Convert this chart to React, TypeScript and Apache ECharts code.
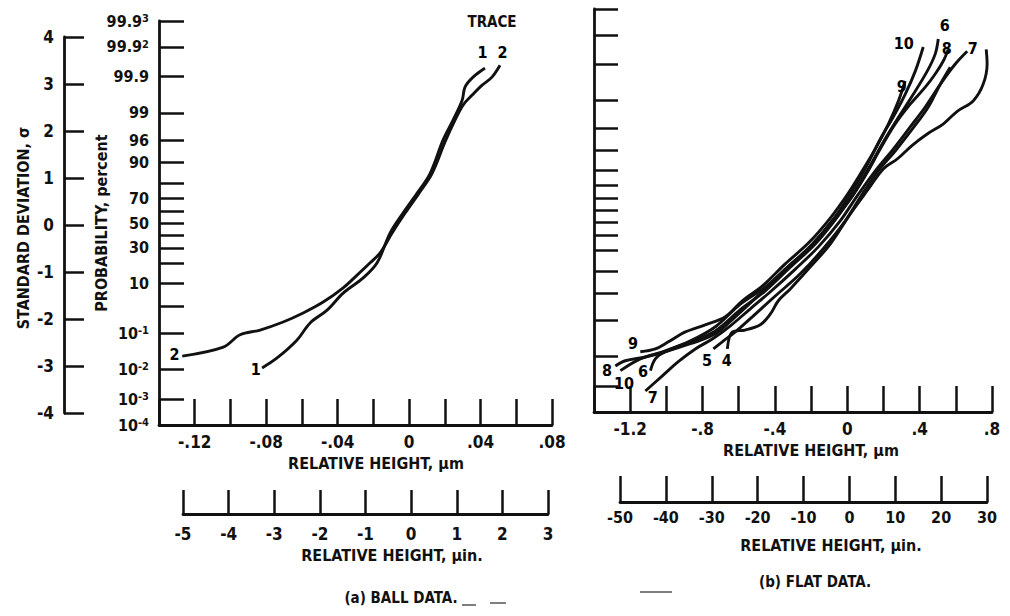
import React, { useEffect, useRef } from 'react';
import * as echarts from 'echarts';

const FONT = "'DejaVu Sans Condensed', 'Liberation Sans Narrow', 'DejaVu Sans', sans-serif";
const INK = '#111';

// Normal-probability scale: tick positions in percent, and the labels printed beside some of them
const probTickPercent = [0.001, 0.01, 0.1, 1, 4, 10, 20, 30, 40, 50, 60, 70, 80, 90, 96, 99, 99.9, 99.99, 99.999];
const probLabelPercent = [0.001, 0.01, 0.1, 1, 10, 30, 50, 70, 90, 96, 99, 99.9, 99.99, 99.999];
const probLabelText = ['10{s|-4}', '10{s|-3}', '10{s|-2}', '10{s|-1}', '10', '30', '50', '70', '90', '96', '99', '99.9', '99.9{s|2}', '99.9{s|3}'];

// Standard deviation scale
const sigmaMin = -4;
const sigmaMax = 4;

// Relative height axes (µm and µin.)
const ballMicronRange = [-0.14, 0.08];
const ballMicroinchRange = [-5, 3];
const flatMicronRange = [-1.4, 0.8];
const flatMicroinchRange = [-50, 30];

// (a) Ball data: [relative height µm, standard deviation σ]
const ballTrace1 = [
  [-0.0823, -3.06], [-0.0739, -2.85], [-0.0627, -2.47], [-0.0554, -2.11], [-0.0459, -1.84],
  [-0.0369, -1.48], [-0.0257, -1.16], [-0.0179, -0.84], [-0.0106, -0.21], [-0.0034, 0.21],
  [0.0045, 0.63], [0.0118, 1.05], [0.019, 1.75], [0.0246, 2.17], [0.0297, 2.59],
  [0.0313, 2.87], [0.0358, 3.08], [0.0425, 3.27],
];
const ballTrace2 = [
  [-0.127, -2.81], [-0.104, -2.62], [-0.0946, -2.36], [-0.0834, -2.26], [-0.0705, -2.09],
  [-0.0593, -1.9], [-0.0481, -1.67], [-0.0369, -1.37], [-0.0291, -1.1], [-0.0218, -0.84],
  [-0.0162, -0.63], [-0.0095, -0.21], [-0.0022, 0.21], [0.0056, 0.63], [0.0129, 1.05],
  [0.0201, 1.71], [0.0257, 2.17], [0.0302, 2.49], [0.0353, 2.7], [0.0409, 2.91],
  [0.0464, 3.08], [0.0509, 3.33],
];
const ballLabelText = ['1', '2', '1', '2'];
const ballLabelX = [-0.0856, -0.131, 0.0414, 0.0526];
const ballLabelY = [-3.1, -2.78, 3.59, 3.59];

// (b) Flat data: [relative height µm, standard deviation σ]
const flatTrace4 = [
  [-0.663, -2.93], [-0.635, -2.57], [-0.564, -2.53], [-0.481, -2.42], [-0.425, -2.19],
  [-0.381, -1.91], [-0.315, -1.66], [-0.215, -1.24], [-0.094, -0.71], [0.017, -0.07],
  [0.116, 0.45], [0.199, 0.88], [0.276, 1.09], [0.359, 1.38], [0.442, 1.62],
  [0.53, 1.83], [0.608, 2.1], [0.696, 2.32], [0.751, 2.67], [0.773, 3.1], [0.768, 3.41],
];
const flatTrace5 = [
  [-0.74, -2.93], [-0.691, -2.78], [-0.619, -2.57], [-0.525, -2.25], [-0.398, -1.81],
  [-0.26, -1.34], [-0.133, -0.81], [-0.011, -0.22], [0.083, 0.35], [0.171, 0.84],
  [0.265, 1.26], [0.359, 1.72], [0.448, 2.19], [0.514, 2.67], [0.569, 3.03],
];
const flatTrace6 = [
  [-1.088, -3.39], [-1.061, -3.14], [-1.006, -2.99], [-0.867, -2.78], [-0.729, -2.55],
  [-0.591, -2.1], [-0.453, -1.7], [-0.315, -1.2], [-0.177, -0.71], [-0.055, -0.14],
  [0.033, 0.35], [0.116, 0.88], [0.193, 1.41], [0.276, 1.93], [0.365, 2.46],
  [0.442, 2.95], [0.486, 3.31], [0.503, 3.63],
];
const flatTrace7 = [
  [-1.116, -3.82], [-1.022, -3.5], [-0.934, -3.2], [-0.84, -2.93], [-0.746, -2.72],
  [-0.646, -2.44], [-0.536, -2.08], [-0.425, -1.72], [-0.287, -1.24], [-0.16, -0.77],
  [-0.039, -0.22], [0.055, 0.31], [0.155, 0.84], [0.254, 1.3], [0.348, 1.77],
  [0.431, 2.19], [0.514, 2.67], [0.597, 3.1], [0.663, 3.37],
];
const flatTrace8 = [
  [-1.282, -3.29], [-1.227, -3.18], [-1.116, -3.1], [-1.006, -2.99], [-0.867, -2.82],
  [-0.729, -2.61], [-0.619, -2.25], [-0.481, -1.76], [-0.343, -1.24], [-0.204, -0.77],
  [-0.083, -0.22], [0.017, 0.24], [0.105, 0.77], [0.182, 1.3], [0.265, 1.83],
  [0.348, 2.25], [0.431, 2.61], [0.486, 2.89], [0.53, 3.16], [0.558, 3.41],
];
const flatTrace9 = [
  [-1.144, -2.99], [-1.061, -2.93], [-0.989, -2.78], [-0.895, -2.57], [-0.785, -2.42],
  [-0.674, -2.25], [-0.58, -1.91], [-0.47, -1.6], [-0.343, -1.13], [-0.215, -0.69],
  [-0.094, -0.16], [0.006, 0.37], [0.083, 0.84], [0.155, 1.3], [0.227, 1.83],
  [0.282, 2.31], [0.32, 2.74],
];
const flatTrace10 = [
  [-1.254, -3.39], [-1.144, -3.14], [-1.006, -2.97], [-0.867, -2.76], [-0.729, -2.46],
  [-0.591, -1.98], [-0.453, -1.62], [-0.315, -1.15], [-0.193, -0.71], [-0.077, -0.18],
  [0.017, 0.35], [0.099, 0.88], [0.182, 1.51], [0.254, 1.98], [0.32, 2.46],
  [0.376, 2.95], [0.42, 3.46],
];
const flatLabelText = ['10', '6', '8', '7', '4', '9', '9', '8', '10', '6', '7', '5', '4'];
const flatLabelX = [0.315, 0.541, 0.552, 0.696, 0.818, 0.304, -1.182, -1.326, -1.232, -1.127, -1.072, -0.773, -0.663];
const flatLabelY = [3.52, 3.9, 3.41, 3.41, 3.63, 2.61, -2.82, -3.39, -3.67, -3.41, -3.96, -3.18, -3.18];

// Inverse of the standard normal distribution (Acklam's rational approximation)
function probit(p: number): number {
  const a = [-39.69683028665376, 220.9460984245205, -275.9285104469687, 138.357751867269, -30.66479806614716, 2.506628277459239];
  const b = [-54.47609879822406, 161.5858368580409, -155.6989798598866, 66.80131188771972, -13.28068155288572];
  const c = [-0.007784894002430293, -0.3223964580411365, -2.400758277161838, -2.549732539343734, 4.374664141464968, 2.938163982698783];
  const d = [0.007784695709041462, 0.3224671290700398, 2.445134137142996, 3.754408661907416];
  const pl = 0.02425;
  if (p < pl) {
    const q = Math.sqrt(-2 * Math.log(p));
    return (((((c[0] * q + c[1]) * q + c[2]) * q + c[3]) * q + c[4]) * q + c[5]) / ((((d[0] * q + d[1]) * q + d[2]) * q + d[3]) * q + 1);
  }
  if (p > 1 - pl) {
    const q = Math.sqrt(-2 * Math.log(1 - p));
    return -(((((c[0] * q + c[1]) * q + c[2]) * q + c[3]) * q + c[4]) * q + c[5]) / ((((d[0] * q + d[1]) * q + d[2]) * q + d[3]) * q + 1);
  }
  const q = p - 0.5;
  const r = q * q;
  return (((((a[0] * r + a[1]) * r + a[2]) * r + a[3]) * r + a[4]) * r + a[5]) * q / (((((b[0] * r + b[1]) * r + b[2]) * r + b[3]) * r + b[4]) * r + 1);
}

const probTickSigma = probTickPercent.map((p) => probit(p / 100));
const probLabelSigma = probLabelPercent.map((p) => probit(p / 100));
const probMin = probit(probTickPercent[0] / 100);
const probMax = probit(probTickPercent[probTickPercent.length - 1] / 100);

function probLabel(v: number): string {
  const i = probLabelSigma.findIndex((z) => Math.abs(z - v) < 1e-6);
  return i >= 0 ? probLabelText[i] : '';
}

function decimalLabel(v: number, step: number, every: number, digits: number): string {
  const r = Math.round(v / step);
  if (r % every !== 0) return '';
  if (r === 0) return '0';
  const s = Math.abs(v).toFixed(digits).replace(/^0/, '');
  return (v < 0 ? '-' : '') + s;
}

const lineBase = { lineStyle: { color: INK, width: 2.8 } };
const tickBase = { lineStyle: { color: INK, width: 2.5 } };
const labelBase = { color: INK, fontFamily: FONT, fontWeight: 'bold' as const, fontSize: 16 };

function hiddenAxis(gridIndex: number) {
  return { type: 'value', gridIndex, show: false, min: 0, max: 1 };
}

function traceSeries(name: string, data: number[][], axis: number) {
  return {
    name,
    type: 'line',
    xAxisIndex: axis,
    yAxisIndex: axis,
    data,
    smooth: 0.35,
    symbol: 'none',
    lineStyle: { color: INK, width: 2.9 },
    z: 3,
  };
}

function labelSeries(texts: string[], xs: number[], ys: number[], axis: number) {
  return {
    type: 'scatter',
    xAxisIndex: axis,
    yAxisIndex: axis,
    symbol: 'circle',
    symbolSize: 1,
    itemStyle: { color: '#ffffff', opacity: 0 },
    data: texts.map((t, i) => ({ name: t, value: [xs[i], ys[i]] })),
    label: {
      show: true,
      position: [0, 0],
      align: 'center',
      verticalAlign: 'middle',
      formatter: (p: any) => p.name,
      color: '#000',
      opacity: 1,
      fontFamily: FONT,
      fontWeight: 'bold',
      fontSize: 16,
    },
    silent: true,
    z: 4,
  };
}

function headText(text: string, x: number, y: number, size = 16) {
  return {
    type: 'text',
    x,
    y,
    style: {
      text,
      fill: INK,
      font: `bold ${size}px ${FONT}`,
      textAlign: 'center',
      textVerticalAlign: 'middle',
    },
  };
}

// short smudges left along the caption line by the printing
function smudge(x1: number, y1: number, x2: number, y2: number) {
  return { type: 'line', shape: { x1, y1, x2, y2 }, style: { stroke: '#555', lineWidth: 1.5 } };
}

export default function App() {
  const ref = useRef<HTMLDivElement>(null);

  useEffect(() => {
    if (!ref.current) return;
    const chart = echarts.init(ref.current, null, { renderer: 'svg' });

    const option: any = {
      animation: false,
      backgroundColor: '#fff',
      grid: [
        { left: 159, top: 21, width: 393, height: 404 },
        { left: 183, top: 480, width: 365, height: 34 },
        { left: 594, top: 9, width: 398, height: 403 },
        { left: 620, top: 468, width: 367, height: 34 },
        { left: 64, top: 37, width: 1, height: 376 },
      ],
      xAxis: [
        {
          type: 'value',
          gridIndex: 0,
          min: ballMicronRange[0],
          max: ballMicronRange[1],
          interval: 0.02,
          axisLine: { show: true, onZero: false, ...lineBase },
          axisTick: { show: true, inside: true, length: 26, ...tickBase },
          axisLabel: { ...labelBase, fontSize: 17, margin: 8, formatter: (v: number) => decimalLabel(v, 0.01, 4, 2) },
          splitLine: { show: false },
        },
        {
          type: 'value',
          gridIndex: 1,
          min: ballMicroinchRange[0],
          max: ballMicroinchRange[1],
          interval: 1,
          axisLine: { show: true, onZero: false, ...lineBase },
          axisTick: { show: true, inside: true, length: 24, ...tickBase },
          axisLabel: { ...labelBase, fontSize: 17, margin: 11 },
          splitLine: { show: false },
        },
        {
          type: 'value',
          gridIndex: 2,
          min: flatMicronRange[0],
          max: flatMicronRange[1],
          interval: 0.2,
          axisLine: { show: true, onZero: false, ...lineBase },
          axisTick: { show: true, inside: true, length: 26, ...tickBase },
          axisLabel: { ...labelBase, fontSize: 17, margin: 8, formatter: (v: number) => decimalLabel(v, 0.1, 4, 1) },
          splitLine: { show: false },
        },
        {
          type: 'value',
          gridIndex: 3,
          min: flatMicroinchRange[0],
          max: flatMicroinchRange[1],
          interval: 10,
          axisLine: { show: true, onZero: false, ...lineBase },
          axisTick: { show: true, inside: true, length: 26, ...tickBase },
          axisLabel: { ...labelBase, fontSize: 16, margin: 7 },
          splitLine: { show: false },
        },
        hiddenAxis(4),
      ],
      yAxis: [
        {
          type: 'value',
          gridIndex: 0,
          min: probMin,
          max: probMax,
          axisLine: { show: true, onZero: false, ...lineBase },
          axisTick: { show: true, inside: true, length: 25, customValues: probTickSigma, ...tickBase },
          axisLabel: {
            ...labelBase,
            margin: 10,
            customValues: probLabelSigma,
            formatter: probLabel,
            rich: {
              s: { fontFamily: FONT, fontWeight: 'bold', fontSize: 11, color: INK, verticalAlign: 'top', lineHeight: 12 },
            },
          },
          splitLine: { show: false },
        },
        hiddenAxis(1),
        {
          type: 'value',
          gridIndex: 2,
          min: probMin,
          max: probMax,
          axisLine: { show: true, onZero: false, ...lineBase },
          axisTick: { show: true, inside: true, length: 24, customValues: probTickSigma, ...tickBase },
          axisLabel: { show: false },
          splitLine: { show: false },
        },
        hiddenAxis(3),
        {
          type: 'value',
          gridIndex: 4,
          min: sigmaMin,
          max: sigmaMax,
          interval: 1,
          axisLine: { show: true, onZero: false, ...lineBase },
          axisTick: { show: true, inside: true, length: 20, ...tickBase },
          axisLabel: { ...labelBase, fontSize: 17, margin: 10 },
          splitLine: { show: false },
        },
      ],
      series: [
        traceSeries('Trace 1', ballTrace1, 0),
        traceSeries('Trace 2', ballTrace2, 0),
        labelSeries(ballLabelText, ballLabelX, ballLabelY, 0),
        traceSeries('Trace 4', flatTrace4, 2),
        traceSeries('Trace 5', flatTrace5, 2),
        traceSeries('Trace 6', flatTrace6, 2),
        traceSeries('Trace 7', flatTrace7, 2),
        traceSeries('Trace 8', flatTrace8, 2),
        traceSeries('Trace 9', flatTrace9, 2),
        traceSeries('Trace 10', flatTrace10, 2),
        labelSeries(flatLabelText, flatLabelX, flatLabelY, 2),
      ],
      graphic: [
        { ...headText('STANDARD DEVIATION, σ', 23, 228), rotation: Math.PI / 2 },
        { ...headText('PROBABILITY, percent', 101, 223), rotation: Math.PI / 2 },
        headText('TRACE', 492, 22, 15),
        headText('RELATIVE HEIGHT, µm', 376, 463),
        headText('RELATIVE HEIGHT, µin.', 392, 555),
        headText('(a) BALL DATA.', 401, 598, 15),
        headText('RELATIVE HEIGHT, µm', 811, 450),
        headText('RELATIVE HEIGHT, µin.', 831, 545),
        headText('(b) FLAT DATA.', 815, 582, 15),
        smudge(462, 605, 476, 605),
        smudge(490, 603, 506, 603),
        smudge(640, 592, 672, 592),
      ],
    };

    chart.setOption(option);
    return () => chart.dispose();
  }, []);

  return <div ref={ref} style={{ position: 'absolute', left: 0, top: 0, width: 1010, height: 616 }} />;
}
